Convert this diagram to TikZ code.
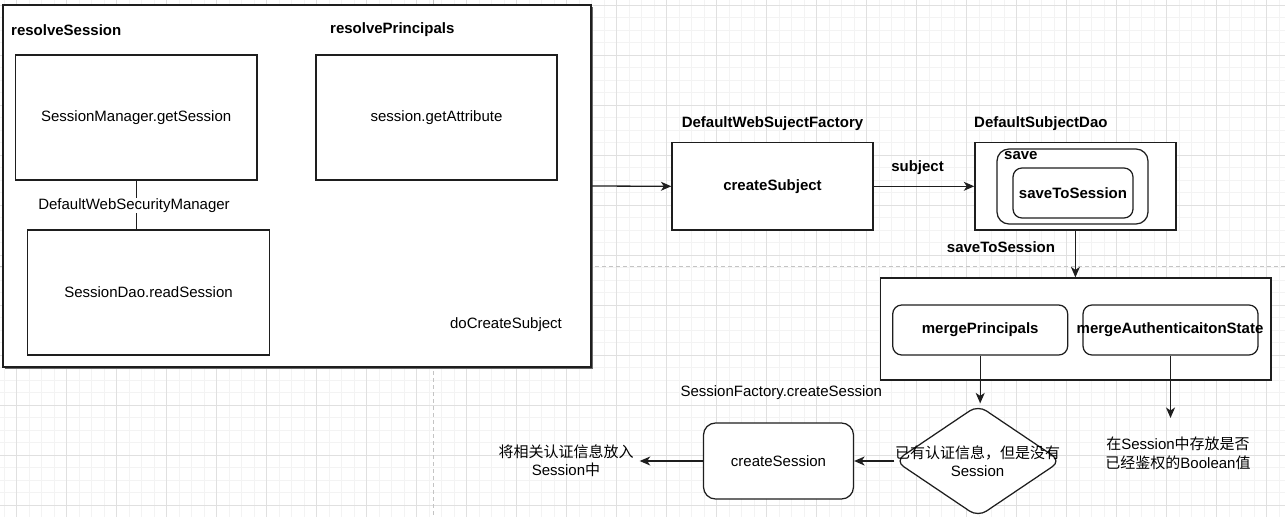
\documentclass[tikz,border=0pt]{standalone}
\usepackage{fontspec}
\setmainfont{Liberation Sans}
\newfontfamily\cjk{Noto Sans CJK SC}
\usepackage{xcolor}
\usetikzlibrary{arrows.meta,shapes.geometric,shadows}
\definecolor{gridminor}{HTML}{F3F3F3}
\definecolor{gridmajor}{HTML}{E0E0E0}
\definecolor{pagebreak}{HTML}{C4C4C4}
\definecolor{boxline}{HTML}{1E1E1E}
\definecolor{shadowgray}{HTML}{6A6A6A}
\tikzset{
  lbl/.style={font=\fontsize{15}{18}\selectfont, inner sep=2pt},
  blbl/.style={font=\fontsize{15}{18}\selectfont\bfseries, inner sep=2pt},
  plainbox/.style={draw=boxline, line width=1.25pt, fill=white, inner sep=0pt,
    font=\fontsize{15}{18}\selectfont},
  roundbox/.style={plainbox, rounded corners=9pt},
  flow/.style={draw=boxline, line width=1.3pt,
    -{Stealth[length=10.5pt,width=9pt,inset=3pt]}},
}

\begin{document}
\begin{tikzpicture}[x=1pt,y=-1pt]
  \useasboundingbox (0,0) rectangle (1285,517);
  \fill[white] (0,0) rectangle (1285,517);
  \foreach \gx in {4.17,16.67,...,1285} \draw[gridminor, line width=1pt] (\gx,0) -- (\gx,517);
  \foreach \gy in {5,17.5,...,517} \draw[gridminor, line width=1pt] (0,\gy) -- (1285,\gy);
  \foreach \gx in {16.67,66.67,...,1285} \draw[gridmajor, line width=1pt] (\gx,0) -- (\gx,517);
  \foreach \gy in {5,55,...,517} \draw[gridmajor, line width=1pt] (0,\gy) -- (1285,\gy);
  \draw[pagebreak, line width=1pt, dash pattern=on 4pt off 3pt] (0,266.5) -- (1285,266.5);
  \draw[pagebreak, line width=1pt, dash pattern=on 4pt off 3pt] (433,0) -- (433,517);

  % doCreateSubject
  \node[plainbox, minimum width=588pt, minimum height=362pt,
    drop shadow={shadow xshift=1.5pt, shadow yshift=-1.5pt, fill=shadowgray, opacity=1}]
    (docreate) at (297,186) {};
  \node[lbl] (docreatelbl) at (506,325) {doCreateSubject};
  \node[blbl, anchor=west] (resolvesess) at (9,30) {resolveSession};
  \node[blbl, anchor=west] (resolveprinc) at (328,30) {resolvePrincipals};
  \node[plainbox, minimum width=241.7pt, minimum height=125pt] (getsess) at (136.2,117.5)
    {SessionManager.getSession};
  \node[plainbox, minimum width=241pt, minimum height=125pt] (getattr) at (436.5,117.5)
    {session.getAttribute};
  \node[plainbox, minimum width=241.8pt, minimum height=125pt] (readsess) at (148.5,292.5)
    {SessionDao.readSession};
  \draw[draw=boxline, line width=1.25pt] (getsess.south) -- (getsess.south |- readsess.north);
  \node[lbl, fill=white, inner sep=1pt] (secmgr) at (134,205.5) {DefaultWebSecurityManager};

  % subject factory and dao
  \node[blbl] (factorylbl) at (772.5,124) {DefaultWebSujectFactory};
  \node[plainbox, font=\fontsize{15}{18}\selectfont\bfseries,
    minimum width=201pt, minimum height=87.3pt] (createsubj) at (772.5,186.3) {createSubject};
  \node[blbl, anchor=west] (daolbl) at (972,124) {DefaultSubjectDao};
  \node[plainbox, minimum width=201pt, minimum height=87.3pt] (subjdao) at (1075.4,186.3) {};
  \node[roundbox, rounded corners=12pt, minimum width=151pt, minimum height=75pt]
    (savebox) at (1072.5,186.5) {};
  \node[blbl, anchor=west] (savelbl) at (1002,155.5) {save};
  \node[roundbox, font=\fontsize{15}{18}\selectfont\bfseries,
    minimum width=120pt, minimum height=50pt] (savetosess) at (1073,193) {saveToSession};
  \draw[flow] (docreate.east) -- (createsubj.west);
  \draw[flow] (createsubj.east) -- (subjdao.west);
  \node[blbl] (subjlbl) at (917.5,168) {subject};

  % merge step
  \node[plainbox, minimum width=390.4pt, minimum height=102pt] (merge) at (1075.8,329) {};
  \node[roundbox, font=\fontsize{15}{18}\selectfont\bfseries,
    minimum width=175pt, minimum height=50pt] (mergeprinc) at (980.2,330) {mergePrincipals};
  \node[roundbox, font=\fontsize{15}{18}\selectfont\bfseries,
    minimum width=175pt, minimum height=50pt] (mergeauth) at (1170.5,330) {};
  \node[blbl] (mergeauthlbl) at (1170,330) {mergeAuthenticaitonState};
  \draw[flow] (subjdao.south) -- (subjdao.south |- merge.north);
  \node[blbl] (savetolbl) at (1001,247) {saveToSession};

  % session creation
  \node[draw=boxline, line width=1.25pt, fill=white, shape=diamond, inner sep=0pt,
    minimum width=166pt, minimum height=112pt, rounded corners=10pt] (hasauth) at (978,461) {};
  \node[lbl, align=center] (hasauthlbl) at (977.5,461)
    {{\cjk 已有认证信息，但是没有}\\Session};
  \node[roundbox, rounded corners=12pt, minimum width=150pt, minimum height=76pt]
    (createsess) at (778.5,461) {createSession};
  \node[lbl] (factsesslbl) at (781.3,393) {SessionFactory.createSession};
  \node[lbl, align=center] (putinfo) at (566,461)
    {{\cjk 将相关认证信息放入}\\Session{\cjk 中}};
  \node[lbl, align=center] (boolinfo) at (1178,453)
    {{\cjk 在}Session{\cjk 中存放是否}\\[1pt]{\cjk 已经鉴权的}Boolean{\cjk 值}};
  \coordinate (booltop) at (1170.5,418);
  \draw[flow, shorten >=1pt] (mergeprinc.south) -- (mergeprinc.south |- hasauth.north);
  \draw[flow] (mergeauth.south) -- (booltop);
  \draw[flow] (hasauth.west) -- (createsess.east);
  \draw[flow, shorten >=4pt] (createsess.west) -- (putinfo.east);
\end{tikzpicture}
\end{document}
